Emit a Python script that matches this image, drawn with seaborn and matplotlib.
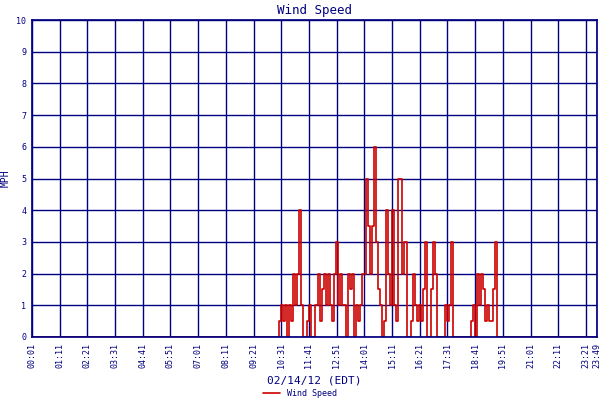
import matplotlib
matplotlib.use("Agg")
import matplotlib.pyplot as plt
import seaborn as sns
import numpy as np
import pandas as pd

start_min = 10*60 + 25
step_min = 5
values = [0.5,1,0.5,1,0,1,0.5,2,1,2,4,1,0,0,0.5,1,0,0,1,1,
          2,0.5,1.5,2,1,2,1,0.5,2,3,1,2,1,1,0,2,1.5,2,0,1,
          0.5,1,2,2,5,3.5,2,3.5,6,3,1.5,1,0,0.5,4,2,1,4,1,0.5,
          5,5,2,3,3,0,0,0.5,2,1,0.5,1,0.5,1.5,3,0,0,1.5,3,2,
          0,0,0,0,1,0.5,1,3,0,0,0,0,0,0,0,0,0,0.5,1,0,
          2,1,2,1.5,0.5,1,0.5,0.5,1.5,3,0]
tick_labels = ["00:01","01:11","02:21","03:31","04:41","05:51","07:01","08:11",
               "09:21","10:31","11:41","12:51","14:01","15:11","16:21","17:31",
               "18:41","19:51","21:01","22:11","23:21","23:49"]

t0, t1 = 1, 23*60+49
mins = [t0] + [start_min + i*step_min for i in range(len(values))] + [t1]
vals = [0] + values + [0]
df = pd.DataFrame({"minute": mins, "mph": vals})

navy = "#000080"
sns.set_theme(style="white")
plt.rcParams['font.family'] = ['DejaVu Sans Mono']
fig = plt.figure(figsize=(6, 4), dpi=100)
ax = fig.add_axes([32/600, 63/400, 565/600, 317/400])
sns.lineplot(data=df, x="minute", y="mph", ax=ax, color="#cc0000", lw=1.2,
             drawstyle="steps-post", label="Wind Speed", legend=False)
ax.set_xlim(t0, t1)
ax.set_ylim(0, 10)
tick_pos = [t0 + 70*i for i in range(21)] + [t1]
ax.set_xticks(tick_pos)
ax.set_xticklabels(tick_labels, rotation=90, fontsize=6, color=navy)
ax.set_yticks(range(11))
ax.set_yticklabels([str(i) for i in range(11)], fontsize=6, color=navy)
ax.grid(True, color=navy, lw=1)
for s in ax.spines.values():
    s.set_color(navy)
ax.tick_params(length=2, color=navy, pad=2)
ax.set_xlabel("02/14/12 (EDT)", color=navy, fontsize=8, labelpad=6)
ax.set_ylabel("MPH", color=navy, fontsize=7)
ax.set_title("Wind Speed", color=navy, fontsize=9, pad=4)
fig.legend(handles=ax.get_lines()[:1], labels=["Wind Speed"], loc="center",
           bbox_to_anchor=(0.5, 7/400), frameon=False, fontsize=6,
           labelcolor=navy, handlelength=2)
fig.savefig("out.png", dpi=100)
